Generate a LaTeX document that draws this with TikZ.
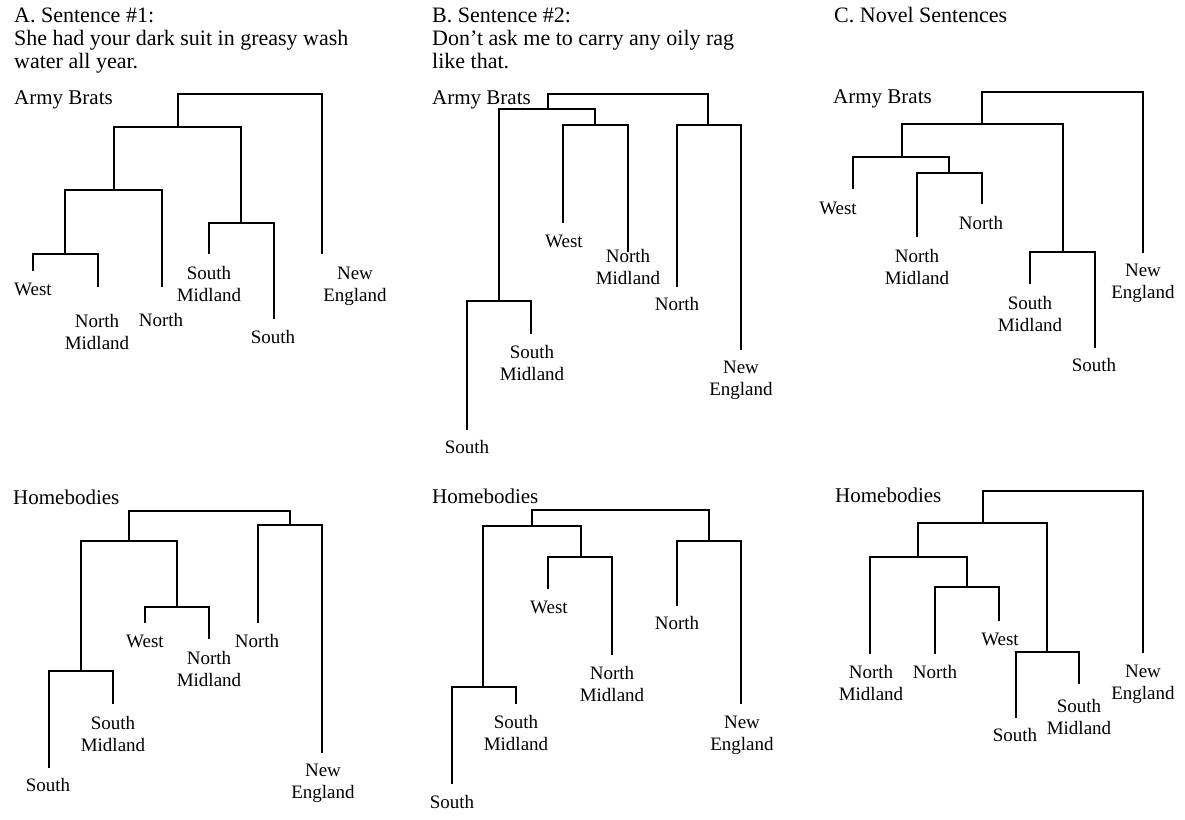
\documentclass[tikz,border=0pt]{standalone}
\usepackage{fontspec}
\setmainfont{Liberation Serif}
\begin{document}
\begin{tikzpicture}[x=1pt,y=-1pt,
  dend/.style={line width=1.6pt, black},
  lbl/.style={font=\fontsize{19}{22}\selectfont, align=center, inner sep=0pt},
  ttl/.style={font=\fontsize{21}{24}\selectfont, anchor=base west, inner sep=0pt},
  hdr/.style={font=\fontsize{22}{24}\selectfont, anchor=base west, inner sep=0pt}]
\useasboundingbox[fill=white] (0,0) rectangle (1185,819);

% ---------- headers ----------
\node[hdr] (hA1) at (14,22) {A. Sentence \#1:};
\node[hdr] (hA2) at (14,45) {She had your dark suit in greasy wash};
\node[hdr] (hA3) at (14,68) {water all year.};
\node[hdr] (hB1) at (432,22) {B. Sentence \#2:};
\node[hdr] (hB2) at (432,45) {Don’t ask me to carry any oily rag};
\node[hdr] (hB3) at (432,68) {like that.};
\node[hdr] (hC1) at (834,22) {C. Novel Sentences};

\node[ttl] (gA1) at (14,104) {Army Brats};
\node[ttl] (gB1) at (432,104) {Army Brats};
\node[ttl] (gC1) at (833,103) {Army Brats};
\node[ttl] (gA2) at (13,504) {Homebodies};
\node[ttl] (gB2) at (432,503) {Homebodies};
\node[ttl] (gC2) at (835,502) {Homebodies};

% ---------- Panel A, Army Brats ----------
\coordinate (aW) at (33,271);  \coordinate (aNM) at (98,287);
\coordinate (aN) at (162,287); \coordinate (aSM) at (209,254);
\coordinate (aS) at (274,319); \coordinate (aNE) at (322,254);
\coordinate (aWNM) at (65,254); \coordinate (aWNMN) at (114,190);
\coordinate (aSMS) at (241,223); \coordinate (aL) at (178,127);
\coordinate (aR) at (250,94);
\draw[dend] (aW) |- (aWNM) -| (aNM);
\draw[dend] (aWNM) |- (aWNMN) -| (aN);
\draw[dend] (aSM) |- (aSMS) -| (aS);
\draw[dend] (aWNMN) |- (aL) -| (aSMS);
\draw[dend] (aL) |- (aR) -| (aNE);
\node[lbl] (aWl) at (33,289) {West};
\node[lbl] (aNMl) at (97,331.5) {North\\Midland};
\node[lbl] (aNl) at (161,320) {North};
\node[lbl] (aSMl) at (209,284) {South\\Midland};
\node[lbl] (aSl) at (273,337) {South};
\node[lbl] (aNEl) at (355,286) {New\\England};

% ---------- Panel B, Army Brats ----------
\coordinate (bW) at (563,223);  \coordinate (bNM) at (628,252);
\coordinate (bN) at (677,287);  \coordinate (bNE) at (741,350);
\coordinate (bSM) at (531,334); \coordinate (bS) at (467,430);
\coordinate (bWNM) at (595,125); \coordinate (bSSM) at (499,301);
\coordinate (bL) at (548,109);   \coordinate (bNNE) at (708,125);
\coordinate (bR) at (628,94);
\draw[dend] (bW) |- (bWNM) -| (bNM);
\draw[dend] (bS) |- (bSSM) -| (bSM);
\draw[dend] (bSSM) |- (bL) -| (bWNM);
\draw[dend] (bN) |- (bNNE) -| (bNE);
\draw[dend] (bL) |- (bR) -| (bNNE);
\node[lbl] (bWl) at (564,241) {West};
\node[lbl] (bNMl) at (628,266.5) {North\\Midland};
\node[lbl] (bNl) at (677,304) {North};
\node[lbl] (bSMl) at (532,362.5) {South\\Midland};
\node[lbl] (bSl) at (467,447) {South};
\node[lbl] (bNEl) at (741,380) {New\\England};

% ---------- Panel C, Army Brats ----------
\coordinate (cW) at (853,189);   \coordinate (cNM) at (917,237);
\coordinate (cN) at (982,204);   \coordinate (cSM) at (1030,284);
\coordinate (cS) at (1095,348);  \coordinate (cNE) at (1143,253);
\coordinate (cNMN) at (949,173); \coordinate (cWG) at (902,157);
\coordinate (cSMS) at (1063,252); \coordinate (cL) at (982,124);
\coordinate (cR) at (1060,92);
\draw[dend] (cNM) |- (cNMN) -| (cN);
\draw[dend] (cW) |- (cWG) -| (cNMN);
\draw[dend] (cSM) |- (cSMS) -| (cS);
\draw[dend] (cWG) |- (cL) -| (cSMS);
\draw[dend] (cL) |- (cR) -| (cNE);
\node[lbl] (cWl) at (838,208) {West};
\node[lbl] (cNl) at (981,223) {North};
\node[lbl] (cNMl) at (917,266.5) {North\\Midland};
\node[lbl] (cSMl) at (1030,314) {South\\Midland};
\node[lbl] (cSl) at (1094,365) {South};
\node[lbl] (cNEl) at (1143,283.5) {New\\England};

% ---------- Panel A, Homebodies ----------
\coordinate (dW) at (145,623);  \coordinate (dNM) at (209,639);
\coordinate (dN) at (258,623);  \coordinate (dNE) at (322,753);
\coordinate (dSM) at (113,704); \coordinate (dS) at (49,768);
\coordinate (dWNM) at (177,607); \coordinate (dSSM) at (81,671);
\coordinate (dL) at (129,541);   \coordinate (dNNE) at (290,525);
\coordinate (dR) at (210,511);
\draw[dend] (dW) |- (dWNM) -| (dNM);
\draw[dend] (dS) |- (dSSM) -| (dSM);
\draw[dend] (dSSM) |- (dL) -| (dWNM);
\draw[dend] (dN) |- (dNNE) -| (dNE);
\draw[dend] (dL) |- (dR) -| (dNNE);
\node[lbl] (dWl) at (145,641) {West};
\node[lbl] (dNMl) at (209,668.5) {North\\Midland};
\node[lbl] (dNl) at (257,641) {North};
\node[lbl] (dSMl) at (113,733.5) {South\\Midland};
\node[lbl] (dSl) at (48,785) {South};
\node[lbl] (dNEl) at (323,783) {New\\England};

% ---------- Panel B, Homebodies ----------
\coordinate (eW) at (548,589);  \coordinate (eNM) at (612,655);
\coordinate (eN) at (677,606);  \coordinate (eNE) at (741,704);
\coordinate (eSM) at (516,704); \coordinate (eS) at (452,784);
\coordinate (eWNM) at (581,557); \coordinate (eSSM) at (483,687);
\coordinate (eL) at (532,526);   \coordinate (eNNE) at (709,541);
\coordinate (eR) at (620,510);
\draw[dend] (eW) |- (eWNM) -| (eNM);
\draw[dend] (eS) |- (eSSM) -| (eSM);
\draw[dend] (eSSM) |- (eL) -| (eWNM);
\draw[dend] (eN) |- (eNNE) -| (eNE);
\draw[dend] (eL) |- (eR) -| (eNNE);
\node[lbl] (eWl) at (549,607) {West};
\node[lbl] (eNl) at (677,623) {North};
\node[lbl] (eNMl) at (612,684) {North\\Midland};
\node[lbl] (eSMl) at (516,733) {South\\Midland};
\node[lbl] (eSl) at (452,802) {South};
\node[lbl] (eNEl) at (742,735) {New\\England};

% ---------- Panel C, Homebodies ----------
\coordinate (fNM) at (870,654);  \coordinate (fN) at (935,654);
\coordinate (fW) at (999,621);   \coordinate (fS) at (1016,718);
\coordinate (fSM) at (1079,684); \coordinate (fNE) at (1143,653);
\coordinate (fNW) at (967,587);  \coordinate (fG) at (918,557);
\coordinate (fSSM) at (1047,652); \coordinate (fL) at (983,523);
\coordinate (fR) at (1060,491);
\draw[dend] (fN) |- (fNW) -| (fW);
\draw[dend] (fNM) |- (fG) -| (fNW);
\draw[dend] (fS) |- (fSSM) -| (fSM);
\draw[dend] (fG) |- (fL) -| (fSSM);
\draw[dend] (fL) |- (fR) -| (fNE);
\node[lbl] (fNMl) at (871,683) {North\\Midland};
\node[lbl] (fNl) at (935,672) {North};
\node[lbl] (fWl) at (1000,639) {West};
\node[lbl] (fSl) at (1015,735) {South};
\node[lbl] (fSMl) at (1079,716.5) {South\\Midland};
\node[lbl] (fNEl) at (1143,684.5) {New\\England};
\end{tikzpicture}
\end{document}
